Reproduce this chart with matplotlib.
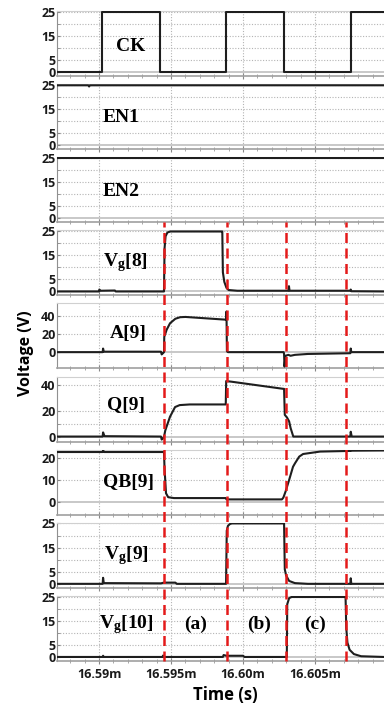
import numpy as np
import matplotlib.pyplot as plt
from matplotlib.ticker import FixedLocator, NullFormatter

plt.rcParams['font.family'] = ['Open Sans', 'DejaVu Sans']
plt.rcParams['mathtext.fontset'] = 'custom'
plt.rcParams['mathtext.rm'] = 'Liberation Serif'
plt.rcParams['mathtext.bf'] = 'Liberation Serif:bold'
plt.rcParams['mathtext.it'] = 'Liberation Serif:italic'

# breakpoints are in microseconds after 16.59 ms
T0 = 16.59e-3
xlim_us = [-2.92, 19.79]
edges_us = [4.51, 8.89, 12.99, 17.15]
xtick_us = [0, 5, 10, 15]
xtick_labels = ['16.59m', '16.595m', '16.60m', '16.605m']
region_labels = ['(a)', '(b)', '(c)']
region_x_us = [6.7, 11.1, 15.0]

ck_t = [-2.92, 0.19, 0.19, 4.26, 4.26, 8.82, 8.82, 12.87, 12.87, 17.48, 17.48, 19.8]
ck_v = [0, 0, 25, 25, 0, 0, 25, 25, 0, 0, 25, 25]

en1_t = [-2.92, -0.75, -0.69, -0.63, 19.8]
en1_v = [25, 25, 24.5, 25, 25]

en2_t = [-2.92, 19.8]
en2_v = [25, 25]

vg8_t = [-2.92, 0.0, 0.02, 0.1, 1.1, 1.15, 4.45, 4.51, 4.55, 4.62, 4.75, 4.95, 8.52, 8.56,
         8.6, 8.7, 8.85, 9.0, 9.6, 13.15, 13.19, 13.23, 17.45, 17.48, 17.52, 19.8]
vg8_v = [0, 0, 0.8, 0.3, 0.4, 0, 0, 0, 18, 23, 24.6, 25, 25, 25,
         8, 4, 1.5, 0.6, 0.3, 0.3, 2.2, 0.3, 0.3, 0.8, 0.1, 0]

a9_t = [-2.92, 0.25, 0.28, 0.33, 4.3, 4.35, 4.45, 4.51, 4.53, 4.7, 4.93, 5.3, 5.63, 6.0,
        8.78, 8.82, 8.85, 8.88, 8.95, 12.82, 12.85, 12.88, 12.95, 13.15, 13.3, 13.6,
        14.5, 17.45, 17.48, 17.52, 19.8]
a9_v = [0, 0, 4, 0.5, 0.5, -2.5, -1, 0, 17, 25, 32, 37, 38.7, 39,
        36, 36, 45, 1, 0, 0, -2, -16, -4, -3, -4, -3,
        -2, -1.2, 4, 0, 0]

q9_t = [-2.92, 0.25, 0.28, 0.38, 4.3, 4.35, 4.45, 4.51, 4.6, 4.93, 5.28, 5.6, 6.3,
        8.8, 8.83, 9.2, 12.8, 12.85, 12.9, 13.05, 13.2, 13.3, 13.49, 17.45, 17.48, 17.55, 19.8]
q9_v = [0.3, 0.3, 3.5, 0.6, 0.3, -2, -1, 0, 5, 15.6, 23, 24.5, 25,
        25, 43, 42.5, 37, 37, 17, 15, 12, 7, 0.3, 0.3, 4, 0.3, 0.3]

qb9_t = [-2.92, 0.25, 0.28, 0.35, 4.45, 4.51, 4.55, 4.65, 4.8, 5.2, 8.8, 8.85, 12.7, 12.8,
         12.95, 13.2, 13.47, 13.61, 13.9, 14.17, 15.35, 17.45, 17.48, 17.52, 19.8]
qb9_v = [22.7, 22.7, 23.5, 22.7, 22.7, 22.7, 15, 4, 2.2, 1.8, 1.8, 1.2, 1.2, 2,
         4.7, 10, 16, 17.6, 20.6, 21.8, 22.9, 23.2, 24, 23.3, 23.4]

vg9_t = [-2.92, 0.25, 0.28, 0.33, 4.3, 4.5, 5.3, 5.4, 8.82, 8.87, 8.95, 9.1, 9.24,
         12.85, 12.9, 12.99, 13.2, 13.6, 14.5, 17.45, 17.48, 17.52, 19.8]
vg9_v = [0, 0, 2.5, 0.3, 0.2, 0.5, 0.5, 0, 0, 22, 24, 24.8, 25,
         25, 6, 3.5, 1.2, 0.3, 0, 0, 2.3, 0, 0]

vg10_t = [-2.92, 0.25, 0.28, 0.33, 4.4, 4.45, 4.5, 8.6, 8.65, 8.85, 10.0, 10.1, 13.04,
          13.07, 13.2, 13.37, 17.12, 17.17, 17.25, 17.4, 17.7, 18.2, 19.8]
vg10_v = [0, 0, 0.5, 0, 0, 0.6, 0, 0, 0.8, 0.5, 0.5, 0, 0,
          22, 24.5, 25, 25, 12, 6, 3, 1.2, 0.3, 0]

names = ['CK', 'EN1', 'EN2', r'$\mathbf{V_g[8]}$', 'A[9]', 'Q[9]', 'QB[9]',
         r'$\mathbf{V_g[9]}$', r'$\mathbf{V_g[10]}$']
signals = [(ck_t, ck_v), (en1_t, en1_v), (en2_t, en2_v), (vg8_t, vg8_v), (a9_t, a9_v),
           (q9_t, q9_v), (qb9_t, qb9_v), (vg9_t, vg9_v), (vg10_t, vg10_v)]

v25 = dict(ylim=(-1.6, 25.5), ticks=[0, 5, 15, 25], grid=[5, 10, 15, 20, 25])
yaxes = [v25, v25, v25, v25,
         dict(ylim=(-18, 54), ticks=[0, 20, 40], grid=[20, 40]),
         dict(ylim=(-3.5, 46.5), ticks=[0, 20, 40], grid=[10, 20, 40]),
         dict(ylim=(-5.7, 23.8), ticks=[0, 10, 20], grid=[10, 20]),
         dict(ylim=(-1.6, 25.3), ticks=[0, 5, 15, 25], grid=[5, 10, 15, 20, 25]),
         v25]
label_pos = [(131, 0.45), (121, 0.48), (121, 0.48), (125, 0.50), (128, 0.54),
             (126, 0.56), (128, 0.49), (126, 0.50), (126, 0.56)]

W, H = 384, 703
fig = plt.figure(figsize=(W / 100, H / 100), dpi=100)
left_px, top_px, pitch_px, h_px = 57, 11, 73.1, 65

axes = []
for i in range(9):
    top = top_px + i * pitch_px
    ax = fig.add_axes([left_px / W, 1 - (top + h_px) / H, 1 - left_px / W, h_px / H])
    axes.append(ax)
    t, v = signals[i]
    ya = yaxes[i]
    ax.set_xlim(T0 + xlim_us[0] * 1e-6, T0 + xlim_us[1] * 1e-6)
    ax.set_ylim(*ya['ylim'])
    # dotted grid
    for g in ya['grid']:
        ax.axhline(g, color='#b4b4b4', lw=0.8, ls=(0, (1, 1.5)), zorder=1)
    for xt in xtick_us:
        ax.axvline(T0 + xt * 1e-6, color='#b4b4b4', lw=0.8, ls=(0, (1, 1.5)), zorder=1)
    ax.axhline(0, color='#c8c8c8', lw=1.4, zorder=1)
    ax.plot(T0 + np.array(t) * 1e-6, v, color='#1e1e1e', lw=1.5, zorder=3)

    ax.set_yticks(ya['ticks'])
    ax.set_yticklabels([str(k) for k in ya['ticks']], fontsize=9, fontweight='bold', color='#1a1a1a')
    ax.yaxis.set_minor_locator(FixedLocator(ya['grid']))
    ax.tick_params(axis='y', which='both', direction='in', length=2.5, color='#888888', pad=1)
    ax.set_xticks([T0 + k * 1e-6 for k in xtick_us])
    ax.xaxis.set_minor_locator(FixedLocator([T0 + k * 1e-6 for k in range(-2, 20)]))
    ax.tick_params(axis='x', which='major', direction='inout', length=5, color='#888888')
    ax.tick_params(axis='x', which='minor', direction='inout', length=3, color='#999999')
    if i < 8:
        ax.set_xticklabels([])
    else:
        ax.set_xticklabels(xtick_labels, fontsize=9, fontweight='bold', color='#1a1a1a')
        ax.tick_params(axis='x', which='major', pad=3)
    ax.spines['bottom'].set_color('#a0a0a0')
    ax.spines['bottom'].set_linewidth(1.2)
    ax.spines['left'].set_color('#909090')
    ax.spines['top'].set_color('#d0d0d0')
    ax.spines['right'].set_visible(False)

    lx, ly = label_pos[i]
    ax.text((lx - left_px) / (W - left_px), ly, names[i], transform=ax.transAxes,
            ha='center', va='center', fontsize=14, fontweight='bold', family='Liberation Serif')

# red dashed edges run from the bottom of EN2 down through Vg[10]
bot = axes[8]
span = (axes[2].get_position().y0 - bot.get_position().y0) / bot.get_position().height
for e in edges_us:
    bot.axvline(T0 + e * 1e-6, ymin=0, ymax=span, color='#e41a1a', lw=1.8,
                ls=(0, (4, 2.2)), clip_on=False, zorder=5)

for lab, xr in zip(region_labels, region_x_us):
    bot.text(T0 + xr * 1e-6, 0.56, lab, transform=bot.get_xaxis_transform(), ha='center',
             va='center', fontsize=14, fontweight='bold', family='Liberation Serif')

fig.text(26 / W, 1 - 353 / H, 'Voltage (V)', rotation=90, ha='center', va='center',
         fontsize=11.5, fontweight='bold')
fig.text(225 / W, 1 - 695 / H, 'Time (s)', ha='center', va='center', fontsize=12, fontweight='bold')

fig.savefig('out.png', dpi=100)
